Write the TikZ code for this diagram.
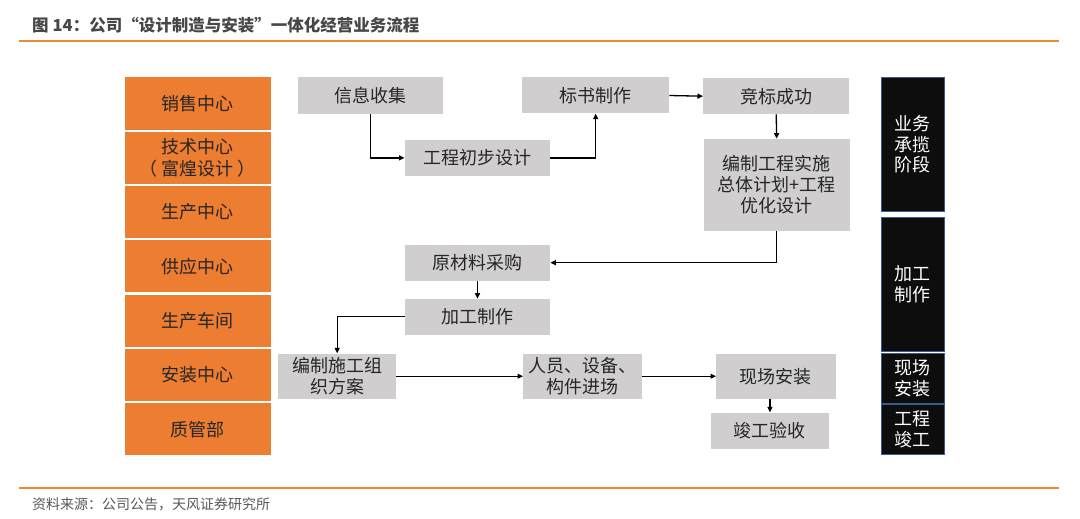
\documentclass[tikz,border=0pt]{standalone}
\usepackage{fontspec}
\setmainfont{Noto Sans CJK SC}
\usetikzlibrary{arrows.meta}
\definecolor{org}{HTML}{ED7D31}
\definecolor{lineorange}{RGB}{240,138,48}
\definecolor{gbox}{HTML}{D0CECE}
\definecolor{bbox}{HTML}{0D0D0D}
\definecolor{bedge}{HTML}{3A5C8C}
\definecolor{tgray}{HTML}{474747}
\definecolor{ftgray}{HTML}{595959}
\definecolor{btext}{HTML}{262626}
\begin{document}
\begin{tikzpicture}[x=1pt,y=-1pt,
  orgbox/.style={fill=org, minimum width=146pt, minimum height=52pt, anchor=north west, inner sep=0pt, font=\fontsize{18}{22}\selectfont, text=btext, align=center},
  graybox/.style={fill=gbox, anchor=north west, inner sep=0pt, font=\fontsize{18}{21}\selectfont, text=btext, align=center},
  blkbox/.style={fill=bbox, draw=bedge, line width=0.8pt, anchor=north west, inner sep=0pt, minimum width=63pt, font=\fontsize{18}{20.5}\selectfont, text=white, align=center},
  arr/.style={-{Triangle[length=5.5pt,width=5pt]}, line width=1.3pt, draw=black},
  thinarr/.style={-{Triangle[length=5.5pt,width=5pt]}, line width=1pt, draw=black},
  sepline/.style={draw=lineorange, line width=2pt}
]
\fill[white] (0,0) rectangle (1080,519);
\useasboundingbox (0,0) rectangle (1080,519);

% title and footer
\node[anchor=west, inner sep=0pt, font=\fontsize{16.5}{18}\selectfont\bfseries, text=tgray] (title) at (32,25) {图\hspace{4pt}14：公司“设计制造与安装”一体化经营业务流程};
\coordinate (tl1) at (19,41.5);
\coordinate (tl2) at (1059,41.5);
\draw[sepline] (tl1) -- (tl2);
\coordinate (bl1) at (19,487.5);
\coordinate (bl2) at (1059,487.5);
\draw[sepline] (bl1) -- (bl2);
\node[anchor=west, inner sep=0pt, font=\fontsize{14}{16}\selectfont, text=ftgray] (foot) at (32,504) {资料来源：公司公告，天风证券研究所};

% left orange column
\node[orgbox] (o1) at (124.5,77.3) {销售中心};
\node[orgbox] (o2) at (124.5,131.5) {技术中心\\（\hspace{4pt}富煌设计\hspace{4pt}）};
\node[orgbox] (o3) at (124.5,185.8) {生产中心};
\node[orgbox] (o4) at (124.5,240.1) {供应中心};
\node[orgbox] (o5) at (124.5,294.4) {生产车间};
\node[orgbox] (o6) at (124.5,348.7) {安装中心};
\node[orgbox] (o7) at (124.5,403.0) {质管部};

% gray boxes
\node[graybox, minimum width=145pt, minimum height=36.5pt] (xxsj) at (298,77.3) {信息收集};
\node[graybox, minimum width=147pt, minimum height=36pt] (bszz) at (522,77.3) {标书制作};
\node[graybox, minimum width=146pt, minimum height=36pt] (jbcg) at (703,78) {竞标成功};
\node[graybox, minimum width=145pt, minimum height=36.7pt] (gccb) at (404.5,139.3) {工程初步设计};
\node[graybox, minimum width=146pt, minimum height=92pt] (bzgc) at (703.5,138.7) {编制工程实施\\总体计划+工程\\优化设计};
\node[graybox, minimum width=145.5pt, minimum height=36.4pt] (ycl) at (404.5,244.3) {原材料采购};
\node[graybox, minimum width=145.5pt, minimum height=35.6pt] (jgzz) at (404.5,298.7) {加工制作};
\node[graybox, minimum width=118pt, minimum height=45.4pt] (bzsg) at (278,353.3) {编制施工组\\织方案};
\node[graybox, minimum width=118.5pt, minimum height=45.4pt] (rysb) at (523,353.3) {人员、设备、\\构件进场};
\node[graybox, minimum width=119.5pt, minimum height=45.4pt] (xcaz) at (716,353.3) {现场安装};
\node[graybox, minimum width=118.5pt, minimum height=36pt] (jgys) at (710.5,412.3) {竣工验收};

% black stage boxes
\node[blkbox, minimum height=133.7pt] (s1) at (881,77.3) {业务\\承揽\\阶段};
\node[blkbox, minimum height=134pt] (s2) at (881,216.7) {加工\\制作};
\node[blkbox, minimum height=50pt] (s3) at (881,352.7) {现场\\安装};
\node[blkbox, minimum height=49.7pt] (s4) at (881,404.3) {工程\\竣工};

% connectors
\draw[arr] (xxsj.south) |- (gccb.west);
\draw[arr] (gccb.east) -| (bszz.south);
\draw[arr] (bszz.east) -- (jbcg.west);
\draw[arr] (jbcg.south) -- (bzgc.north);
\draw[arr] (bzgc.south) |- (ycl.east);
\draw[arr] (ycl.south) -- (jgzz.north);
\draw[arr] (jgzz.west) -| (bzsg.north);
\draw[thinarr] (bzsg.east) -- (rysb.west);
\draw[thinarr] (rysb.east) -- (xcaz.west);
\draw[arr] (jgys.north |- xcaz.south) -- (jgys.north);
\end{tikzpicture}
\end{document}
